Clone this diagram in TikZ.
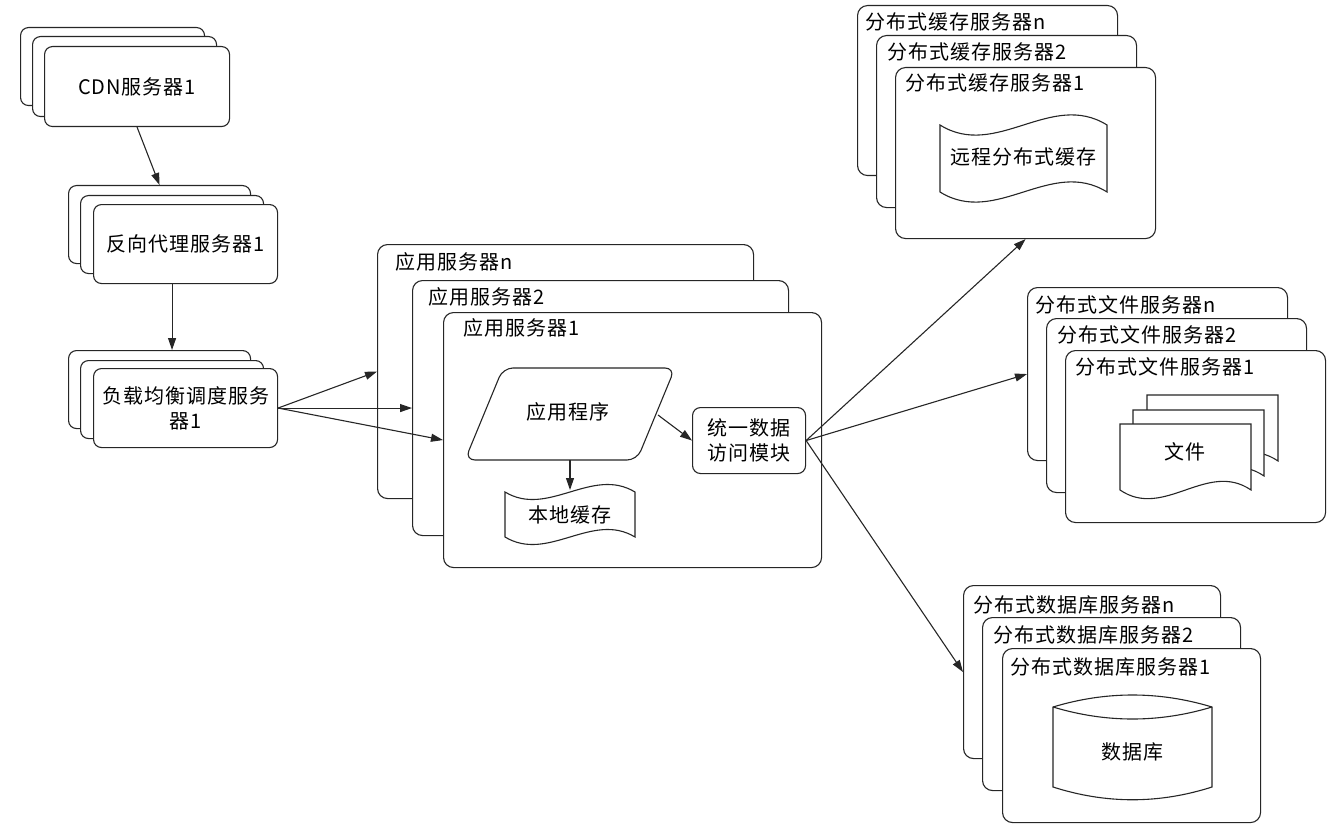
\documentclass[tikz,border=0pt]{standalone}
\usepackage{fontspec}
\setmainfont{Noto Sans CJK SC}[LetterSpace=5]
\usetikzlibrary{arrows.meta}
\newcommand\dfont{\fontsize{20}{25}\selectfont}
\tikzset{
  box/.style={draw=black!85, line width=1.1pt, fill=white, rounded corners=8pt, anchor=north west, inner sep=0pt},
  bigbox/.style={box, rounded corners=10pt},
  lbl/.style={anchor=west, inner sep=0pt, font=\dfont},
  txt/.style={inner sep=0pt, align=center, font=\dfont},
  arr/.style={draw=black!85, line width=1.1pt, -{Triangle[length=12pt,width=8pt]}},
  shp/.style={draw=black!85, line width=1.1pt, fill=white},
}
\begin{document}
\begin{tikzpicture}[x=1pt,y=-1pt]
\useasboundingbox (0,0) rectangle (1343,829);
% CDN stack
\node[box, minimum width=184pt, minimum height=78pt] (cdn3) at (20,27) {};
\node[box, minimum width=184pt, minimum height=80pt] (cdn2) at (32,36) {};
\node[box, minimum width=185pt, minimum height=80pt] (cdn1) at (44,46) {};
\node[txt] (cdnT) at (cdn1.center) {CDN服务器1};
% reverse proxy stack
\node[box, minimum width=182pt, minimum height=78pt] (rp3) at (68,185) {};
\node[box, minimum width=183pt, minimum height=78pt] (rp2) at (80,195) {};
\node[box, minimum width=184pt, minimum height=79pt] (rp1) at (93,204) {};
\node[txt] (rpT) at (rp1.center) {反向代理服务器1};
% load balancer stack
\node[box, minimum width=182pt, minimum height=78pt] (lb3) at (68,350) {};
\node[box, minimum width=183pt, minimum height=78pt] (lb2) at (80,360) {};
\node[box, minimum width=184pt, minimum height=79pt] (lb1) at (93,368) {};
\node[txt] (lbT) at (lb1.center) {负载均衡调度服务\\器1};
% application servers
\node[bigbox, minimum width=376pt, minimum height=254pt] (appn) at (377,244) {};
\node[lbl] (appnT) at (395,262) {应用服务器n};
\node[bigbox, minimum width=376pt, minimum height=255pt] (app2) at (412,280) {};
\node[lbl] (app2T) at (428,297) {应用服务器2};
\node[bigbox, minimum width=378pt, minimum height=255pt] (app1) at (443,312) {};
\node[lbl] (app1T) at (463,328) {应用服务器1};
% application program (parallelogram)
\draw[shp, rounded corners=10pt] (503,368) -- (675,368) -- (637,460) -- (465,460) -- cycle;
\node[txt] (prog) at (568,412) {应用程序};
\coordinate (progR) at (658,415);
\coordinate (progB) at (570,460);
% unified data access
\node[box, minimum width=113pt, minimum height=66pt] (uda) at (692,407) {};
\node[txt] (udaT) at (uda.center) {统一数据\\访问模块};
% local cache (tape)
\draw[shp] (505,492) .. controls (548,518) and (592,466) .. (635,492) -- (635,537)
  .. controls (592,511) and (548,563) .. (505,537) -- cycle;
\node[txt] (lc) at (570,515) {本地缓存};
\coordinate (lcT) at (570,490);
% distributed cache servers
\node[bigbox, minimum width=260pt, minimum height=170pt] (cn) at (857,5) {};
\node[lbl] (cnT) at (865,22) {分布式缓存服务器n};
\node[bigbox, minimum width=260pt, minimum height=172pt] (c2) at (876,35) {};
\node[lbl] (c2T) at (887,52) {分布式缓存服务器2};
\node[bigbox, minimum width=260pt, minimum height=171pt] (c1) at (895,67) {};
\node[lbl] (c1T) at (905,83) {分布式缓存服务器1};
\draw[shp] (940,125) .. controls (996,160) and (1051,90) .. (1107,125) -- (1107,192)
  .. controls (1051,157) and (996,227) .. (940,192) -- cycle;
\node[txt] (rc) at (1023,157) {远程分布式缓存};
% distributed file servers
\node[bigbox, minimum width=260pt, minimum height=173pt] (fn) at (1027,287) {};
\node[lbl] (fnT) at (1035,305) {分布式文件服务器n};
\node[bigbox, minimum width=260pt, minimum height=174pt] (f2) at (1046,318) {};
\node[lbl] (f2T) at (1057,335) {分布式文件服务器2};
\node[bigbox, minimum width=260pt, minimum height=172pt] (f1) at (1065,350) {};
\node[lbl] (f1T) at (1075,367) {分布式文件服务器1};
\draw[shp] (1147,395) -- (1278,395) -- (1278,461) .. controls (1234,431) and (1191,491) .. (1147,461) -- cycle;
\draw[shp] (1133,410) -- (1264,410) -- (1264,476) .. controls (1220,446) and (1177,506) .. (1133,476) -- cycle;
\draw[shp] (1120,424) -- (1251,424) -- (1251,490) .. controls (1207,460) and (1164,520) .. (1120,490) -- cycle;
\node[txt] (file) at (1185,452) {文件};
% distributed database servers
\node[bigbox, minimum width=257pt, minimum height=173pt] (dn) at (963,585) {};
\node[lbl] (dnT) at (973,605) {分布式数据库服务器n};
\node[bigbox, minimum width=258pt, minimum height=173pt] (d2) at (982,617) {};
\node[lbl] (d2T) at (993,635) {分布式数据库服务器2};
\node[bigbox, minimum width=258pt, minimum height=174pt] (d1) at (1002,648) {};
\node[lbl] (d1T) at (1010,667) {分布式数据库服务器1};
\draw[shp] (1053,707) .. controls (1106,691) and (1159,691) .. (1212,707) -- (1212,787)
  .. controls (1159,804) and (1106,804) .. (1053,787) -- cycle;
\draw[draw=black!85, line width=1.1pt] (1053,707) .. controls (1106,723) and (1159,723) .. (1212,707);
\node[txt] (db) at (1132,752) {数据库};
% connectors
\draw[arr] (cdn1.south) -- (rp3.north);
\draw[arr] (rp2.center |- rp1.south) -- (rp2.center |- lb3.north);
\draw[arr] (lb1.east) -- (appn.west);
\draw[arr] (lb1.east) -- (app2.west);
\draw[arr] (lb1.east) -- (app1.west);
\draw[arr] (progR) -- (uda.west);
\draw[arr] (progB) -- (lcT);
\draw[arr] (uda.east) -- (c1.south);
\draw[arr] (uda.east) -- (fn.west);
\draw[arr] (uda.east) -- (dn.west);
\end{tikzpicture}
\end{document}
